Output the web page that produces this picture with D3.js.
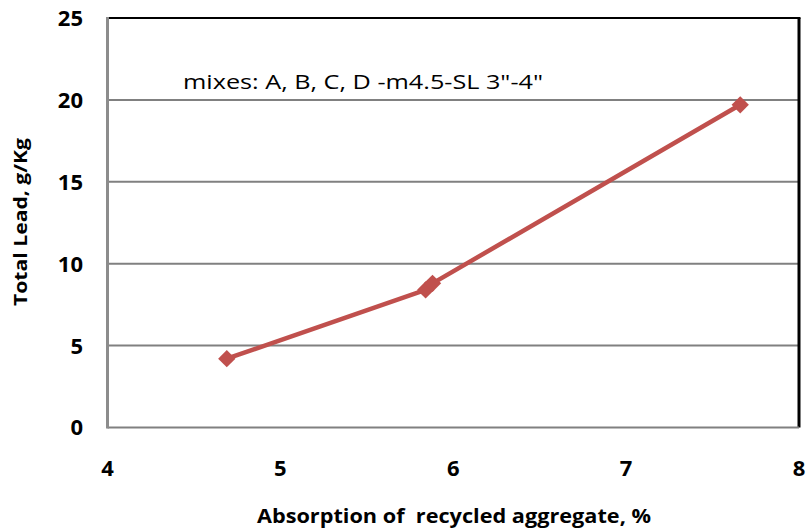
<!DOCTYPE html>
<html><head><meta charset="utf-8">
<script src="https://cdn.jsdelivr.net/npm/d3@7"></script>
<style>body{margin:0;background:#fff} text{white-space:pre}</style>
</head><body><svg id="c" width="808" height="529"></svg>
<script>
const absorption = [4.69, 5.84, 5.88, 7.66];
const totalLead = [4.2, 8.4, 8.8, 19.7];
const xTicks = [4, 5, 6, 7, 8];
const yTicks = [0, 5, 10, 15, 20, 25];
const note = 'mixes: A, B, C, D -m4.5-SL 3"-4"';
const xTitle = "Absorption of  recycled aggregate, %";
const yTitle = "Total Lead, g/Kg";

const svg = d3.select("#c");
const L = 107.5, R = 799, T = 18, B = 427.5;
const x = d3.scaleLinear().domain([4, 8]).range([L, R]);
const y = d3.scaleLinear().domain([0, 25]).range([B, T]);
const font = "'Open Sans', 'Liberation Sans', Arial, sans-serif";

// gridlines
svg.append("g").selectAll("line").data(yTicks.filter(d => d > 0 && d < 25)).join("line")
  .attr("x1", L).attr("x2", R).attr("y1", d => y(d)).attr("y2", d => y(d))
  .attr("stroke", "#808080").attr("stroke-width", 2);
// top and right border
svg.append("line").attr("x1", L).attr("x2", R + 1.5).attr("y1", y(25)).attr("y2", y(25)).attr("stroke", "#000").attr("stroke-width", 2);
svg.append("line").attr("x1", R).attr("x2", R).attr("y1", y(25)).attr("y2", B).attr("stroke", "#000").attr("stroke-width", 3);
// bottom axis
svg.append("line").attr("x1", L).attr("x2", R).attr("y1", B).attr("y2", B).attr("stroke", "#808080").attr("stroke-width", 2);
// left axis
svg.append("line").attr("x1", L).attr("x2", L).attr("y1", y(25) - 1).attr("y2", B + 1).attr("stroke", "#8c8c8c").attr("stroke-width", 3);

// tick labels
svg.append("g").selectAll("text").data(yTicks).join("text")
  .attr("x", 83).attr("y", d => y(d)).attr("dy", "0.36em").attr("text-anchor", "end")
  .attr("font-family", font).attr("font-weight", "bold").attr("font-size", 22).text(d => d);
svg.append("g").selectAll("text").data(xTicks).join("text")
  .attr("x", d => x(d)).attr("y", 468).attr("dy", "0.36em").attr("text-anchor", "middle")
  .attr("font-family", font).attr("font-weight", "bold").attr("font-size", 22).text(d => d);

// titles
svg.append("text").attr("x", 454).attr("y", 523).attr("text-anchor", "middle")
  .attr("font-family", font).attr("font-weight", "bold").attr("font-size", 20)
  .attr("textLength", 394).attr("lengthAdjust", "spacingAndGlyphs").text(xTitle);
svg.append("text").attr("transform", "translate(27,222) rotate(-90)").attr("text-anchor", "middle")
  .attr("font-family", font).attr("font-weight", "bold").attr("font-size", 18)
  .attr("textLength", 168).attr("lengthAdjust", "spacingAndGlyphs").text(yTitle);

// note
svg.append("text").attr("x", 183).attr("y", 89).attr("font-family", font).attr("font-size", 20)
  .attr("textLength", 360).attr("lengthAdjust", "spacingAndGlyphs").text(note);

// line
const pts = absorption.map((d, i) => [d, totalLead[i]]);
svg.append("path").datum(pts)
  .attr("d", d3.line().x(d => x(d[0])).y(d => y(d[1])))
  .attr("fill", "none").attr("stroke", "#c0504d").attr("stroke-width", 4.5).attr("stroke-linejoin", "round");
svg.append("g").selectAll("path").data(pts).join("path")
  .attr("transform", d => `translate(${x(d[0])},${y(d[1])}) rotate(45)`)
  .attr("d", d3.symbol(d3.symbolSquare, 150)())
  .attr("fill", "#c0504d");
</script></body></html>
